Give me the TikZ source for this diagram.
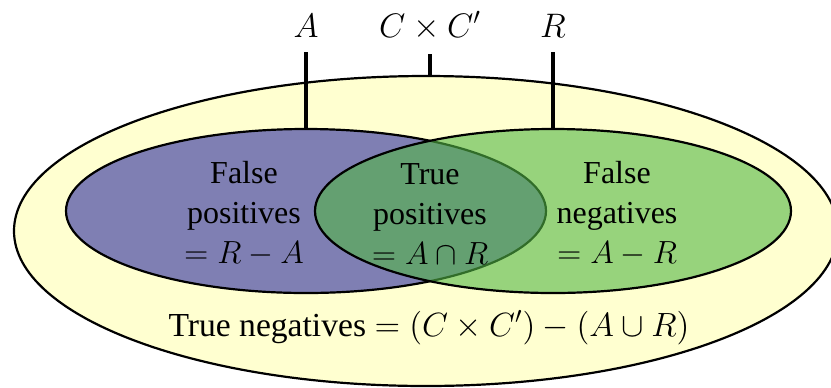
\RequirePackage{fix-cm}
\documentclass[tikz,border=0pt]{standalone}
\usepackage{fontspec}
\setmainfont{Liberation Serif}
\usetikzlibrary{shapes.geometric}
\definecolor{univyellow}{HTML}{FFFFD0}
\definecolor{setblue}{HTML}{7F7FB3}
\definecolor{setgreen}{HTML}{53B645}

\begin{document}
\begin{tikzpicture}[x=0.5pt,y=-0.5pt,
  setnode/.style={ellipse,draw,line width=1.1pt,inner sep=0pt},
  tick/.style={line width=1.6pt},
  toplab/.style={anchor=base,inner sep=0pt,font=\fontsize{17}{20}\selectfont},
  region/.style={align=center,inner sep=0pt,font=\fontsize{16}{20}\selectfont}]
  \useasboundingbox (0,0) rectangle (831,387);

  % universe and the two sets
  \node[setnode,fill=univyellow,minimum width=412pt,minimum height=155pt] (univ) at (426,231) {};
  \node[setnode,fill=setblue,minimum width=240pt,minimum height=82pt] (setA) at (306,211) {};
  \node[setnode,fill=setgreen,fill opacity=0.6,minimum width=238pt,minimum height=82pt] (setR) at (553,211) {};

  % labels on top
  \node[toplab] (labA) at (306,37) {$A$};
  \node[toplab] (labC) at (430,37) {$C\times C'$};
  \node[toplab] (labR) at (553,37) {$R$};
  \coordinate (tipA) at (306,52);
  \coordinate (tipC) at (430,54);
  \coordinate (tipR) at (553,52);
  \draw[tick] (setA.north) -- (tipA);
  \draw[tick] (tipC |- univ.north) -- (tipC);
  \draw[tick] (setR.north) -- (tipR);

  % region texts
  \node[region] (fpos) at (244,214) {False\\positives\\$=R-A$};
  \node[region] (tpos) at (430,214) {True\\positives\\$=A\cap R$};
  \node[region] (fneg) at (617,214) {False\\negatives\\$=A-R$};
  \node[region,anchor=base,font=\fontsize{16.8}{20}\selectfont] (tneg) at (429,336) {True negatives $=(C\times C')-(A\cup R)$};
\end{tikzpicture}
\end{document}
